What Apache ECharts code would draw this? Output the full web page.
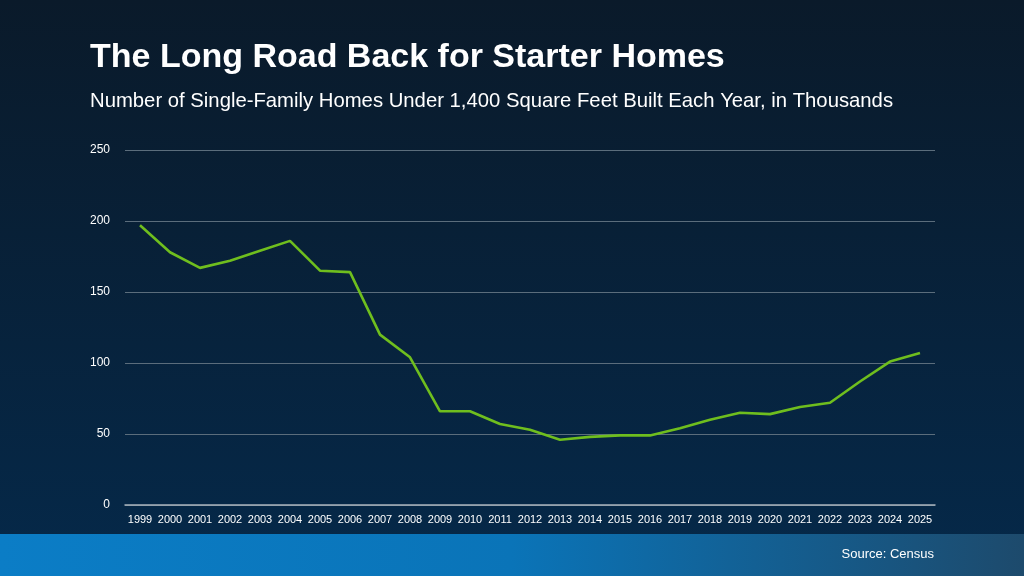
<!DOCTYPE html>
<html><head><meta charset="utf-8">
<script src="https://cdn.jsdelivr.net/npm/echarts@6/dist/echarts.min.js"></script>
<style>html,body{margin:0;padding:0;}#c{width:1024px;height:576px;}</style>
</head><body><div id="c"></div>
<script>
const years = ['1999','2000','2001','2002','2003','2004','2005','2006','2007','2008','2009','2010','2011','2012','2013','2014','2015','2016','2017','2018','2019','2020','2021','2022','2023','2024','2025'];
const homesBuilt = [197,178,167,172,179,186,165,164,120,104,66,66,57,53,46,48,49,49,54,60,65,64,69,72,87,101,107];
const yTicks = [0,50,100,150,200,250];

const chart = echarts.init(document.getElementById('c'));
chart.setOption({
  backgroundColor: new echarts.graphic.LinearGradient(0,0,0,1,[
    {offset:0,color:'#0a1a2a'},{offset:1,color:'#05294a'}
  ]),
  animation:false,
  title:[
    {text:'The Long Road Back for Starter Homes', left:85, top:36,
     textStyle:{color:'#ffffff',fontFamily:'Liberation Sans, Arial',fontWeight:'bold',fontSize:34}},
    {text:'Number of Single-Family Homes Under 1,400 Square Feet Built Each Year, in Thousands', left:85, top:86,
     textStyle:{color:'#ffffff',fontFamily:'Liberation Sans, Arial',fontWeight:'normal',fontSize:20.3}},
    {text:'Source: Census', right:85, top:543, z:10,
     textStyle:{color:'#ffffff',fontFamily:'Liberation Sans, Arial',fontWeight:'normal',fontSize:13}}
  ],
  graphic:[{type:'rect', left:0, top:534, z:-1, shape:{width:1024,height:42},
    style:{fill:new echarts.graphic.LinearGradient(0,0,1,0,[
      {offset:0,color:'#0b7dc6'},{offset:0.5,color:'#0a74b8'},{offset:1,color:'#1d4a6c'}])}}],
  grid:{left:125, right:89, top:150, bottom:71},
  xAxis:{type:'category', data:years, boundaryGap:true,
    axisLine:{lineStyle:{color:'#a9b4bd',width:1.5}}, axisTick:{show:false},
    axisLabel:{color:'#ffffff',fontFamily:'Liberation Sans Narrow, Liberation Sans, Arial',fontSize:11,margin:9,interval:0}},
  yAxis:{type:'value', min:yTicks[0], max:yTicks[yTicks.length-1], interval:50,
    axisLine:{show:false}, axisTick:{show:false},
    axisLabel:{color:'#ffffff',fontFamily:'Liberation Sans, Arial',fontSize:12,margin:15},
    splitLine:{lineStyle:{color:'#5b6d7c',width:1}}},
  series:[{type:'line', data:homesBuilt, symbol:'none',
    lineStyle:{color:'#6fbe1e',width:2.6}}]
});
</script></body></html>
